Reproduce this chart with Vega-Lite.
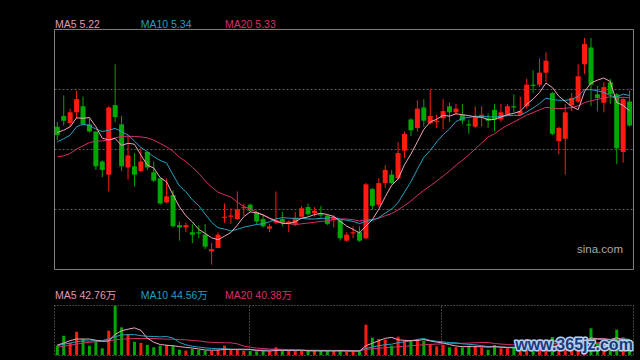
{
"$schema": "https://vega.github.io/schema/vega-lite/v6.json",
"background": "#000000",
"autosize": {"type": "none"},
"padding": 0,
"width": 640, "height": 360,
"view": {"stroke": null},
"config": {"text": {"font": "Liberation Sans, Noto Sans CJK SC", "fontSize": 10.5}, "scale": {"continuousPadding": 0}},
"resolve": {"scale": {"y": "independent"}},
"datasets": {"k": [
{"i":1,"o":5.09,"h":5.13,"l":4.98,"c":5.02,"m5":5.042,"m10":4.964,"m20":4.839,"v":26.5,"v5":28.5,"v10":26.5,"v20":22},
{"i":2,"o":5.18,"h":5.35,"l":5.10,"c":5.14,"m5":5.061,"m10":4.99,"m20":4.847,"v":55,"v5":34,"v10":31,"v20":25},
{"i":3,"o":5.12,"h":5.24,"l":5.09,"c":5.21,"m5":5.089,"m10":5.02,"m20":4.867,"v":34.2,"v5":41,"v10":34,"v20":28},
{"i":4,"o":5.21,"h":5.39,"l":5.16,"c":5.32,"m5":5.164,"m10":5.09,"m20":4.903,"v":66.4,"v5":45.6,"v10":38,"v20":31},
{"i":5,"o":5.26,"h":5.34,"l":5.10,"c":5.11,"m5":5.160,"m10":5.11,"m20":4.931,"v":45.6,"v5":45.5,"v10":40,"v20":34},
{"i":6,"o":5.11,"h":5.16,"l":5.04,"c":5.05,"m5":5.166,"m10":5.10,"m20":4.958,"v":26.5,"v5":45.5,"v10":40,"v20":36},
{"i":7,"o":5.05,"h":5.05,"l":4.73,"c":4.76,"m5":5.090,"m10":5.07,"m20":4.969,"v":37.9,"v5":42.1,"v10":41,"v20":38},
{"i":8,"o":4.80,"h":4.81,"l":4.67,"c":4.73,"m5":4.994,"m10":5.05,"m20":4.972,"v":19.1,"v5":39.1,"v10":41,"v20":39},
{"i":9,"o":4.69,"h":5.26,"l":4.55,"c":5.25,"m5":4.980,"m10":5.06,"m20":4.978,"v":69.3,"v5":39.7,"v10":45.6,"v20":41},
{"i":10,"o":5.27,"h":5.61,"l":5.13,"c":5.17,"m5":4.992,"m10":5.076,"m20":4.997,"v":140.5,"v5":58.7,"v10":52.1,"v20":43},
{"i":11,"o":5.11,"h":5.18,"l":4.72,"c":4.76,"m5":4.934,"m10":5.050,"m20":5.008,"v":78.9,"v5":69.1,"v10":57.3,"v20":45},
{"i":12,"o":4.75,"h":5.02,"l":4.65,"c":4.85,"m5":4.952,"m10":5.021,"m20":5.011,"v":59.9,"v5":73.5,"v10":57.8,"v20":46},
{"i":13,"o":4.76,"h":4.87,"l":4.59,"c":4.69,"m5":4.944,"m10":4.969,"m20":5.008,"v":37.9,"v5":77.3,"v10":58.2,"v20":47},
{"i":14,"o":4.72,"h":4.91,"l":4.71,"c":4.80,"m5":4.854,"m10":4.917,"m20":5.005,"v":34.2,"v5":70.3,"v10":55.0,"v20":47},
{"i":15,"o":4.88,"h":4.88,"l":4.73,"c":4.75,"m5":4.770,"m10":4.881,"m20":4.997,"v":28.5,"v5":47.9,"v10":53.3,"v20":47},
{"i":16,"o":4.71,"h":4.80,"l":4.63,"c":4.64,"m5":4.746,"m10":4.840,"m20":4.978,"v":21.9,"v5":36.5,"v10":52.8,"v20":47},
{"i":17,"o":4.66,"h":4.66,"l":4.44,"c":4.45,"m5":4.666,"m10":4.809,"m20":4.950,"v":26.5,"v5":29.8,"v10":51.7,"v20":46},
{"i":18,"o":4.46,"h":4.66,"l":4.45,"c":4.51,"m5":4.630,"m10":4.787,"m20":4.922,"v":28.5,"v5":27.9,"v10":52.6,"v20":45},
{"i":19,"o":4.52,"h":4.56,"l":4.25,"c":4.26,"m5":4.522,"m10":4.688,"m20":4.886,"v":26.5,"v5":26.4,"v10":48.3,"v20":45},
{"i":20,"o":4.27,"h":4.30,"l":4.14,"c":4.25,"m5":4.422,"m10":4.596,"m20":4.836,"v":15.1,"v5":23.7,"v10":35.8,"v20":43.9},
{"i":21,"o":4.25,"h":4.29,"l":4.21,"c":4.27,"m5":4.348,"m10":4.547,"m20":4.799,"v":12.3,"v5":21.8,"v10":29.1,"v20":43.2},
{"i":22,"o":4.21,"h":4.28,"l":4.12,"c":4.19,"m5":4.296,"m10":4.481,"m20":4.751,"v":17.1,"v5":19.9,"v10":24.9,"v20":41.3},
{"i":23,"o":4.21,"h":4.27,"l":4.16,"c":4.20,"m5":4.234,"m10":4.432,"m20":4.701,"v":14.3,"v5":17.1,"v10":22.5,"v20":40.3},
{"i":24,"o":4.19,"h":4.28,"l":4.07,"c":4.09,"m5":4.200,"m10":4.361,"m20":4.639,"v":12.3,"v5":14.2,"v10":20.3,"v20":37.6},
{"i":25,"o":4.05,"h":4.12,"l":3.94,"c":4.07,"m5":4.164,"m10":4.293,"m20":4.587,"v":12.3,"v5":13.7,"v10":18.7,"v20":36.0},
{"i":26,"o":4.08,"h":4.21,"l":4.08,"c":4.19,"m5":4.148,"m10":4.248,"m20":4.544,"v":14.3,"v5":14.1,"v10":17.9,"v20":35.4},
{"i":27,"o":4.33,"h":4.45,"l":4.29,"c":4.34,"m5":4.178,"m10":4.237,"m20":4.523,"v":26.5,"v5":15.9,"v10":17.9,"v20":34.8},
{"i":28,"o":4.34,"h":4.41,"l":4.28,"c":4.35,"m5":4.208,"m10":4.221,"m20":4.504,"v":14.3,"v5":15.9,"v10":16.5,"v20":34.6},
{"i":29,"o":4.32,"h":4.55,"l":4.31,"c":4.40,"m5":4.270,"m10":4.235,"m20":4.462,"v":15.1,"v5":16.5,"v10":15.4,"v20":31.8},
{"i":30,"o":4.41,"h":4.45,"l":4.35,"c":4.42,"m5":4.340,"m10":4.252,"m20":4.424,"v":12.3,"v5":16.5,"v10":15.1,"v20":25.4},
{"i":31,"o":4.44,"h":4.45,"l":4.38,"c":4.39,"m5":4.380,"m10":4.264,"m20":4.406,"v":11.4,"v5":15.9,"v10":15.0,"v20":22.1},
{"i":32,"o":4.38,"h":4.39,"l":4.28,"c":4.30,"m5":4.372,"m10":4.275,"m20":4.378,"v":10.5,"v5":12.7,"v10":14.3,"v20":19.6},
{"i":33,"o":4.32,"h":4.35,"l":4.25,"c":4.26,"m5":4.354,"m10":4.281,"m20":4.357,"v":11.4,"v5":12.1,"v10":14.0,"v20":18.3},
{"i":34,"o":4.24,"h":4.28,"l":4.21,"c":4.26,"m5":4.326,"m10":4.298,"m20":4.330,"v":10.5,"v5":11.2,"v10":13.9,"v20":17.1},
{"i":35,"o":4.29,"h":4.55,"l":4.28,"c":4.31,"m5":4.304,"m10":4.322,"m20":4.308,"v":21.9,"v5":13.1,"v10":14.8,"v20":16.8},
{"i":36,"o":4.32,"h":4.38,"l":4.26,"c":4.29,"m5":4.284,"m10":4.332,"m20":4.290,"v":11.4,"v5":13.1,"v10":14.5,"v20":16.2},
{"i":37,"o":4.28,"h":4.31,"l":4.21,"c":4.30,"m5":4.284,"m10":4.328,"m20":4.283,"v":11.4,"v5":13.3,"v10":13.0,"v20":15.5},
{"i":38,"o":4.28,"h":4.38,"l":4.26,"c":4.33,"m5":4.298,"m10":4.326,"m20":4.274,"v":12.3,"v5":13.5,"v10":12.8,"v20":14.7},
{"i":39,"o":4.34,"h":4.43,"l":4.34,"c":4.41,"m5":4.328,"m10":4.327,"m20":4.281,"v":12.3,"v5":13.9,"v10":12.5,"v20":14.0},
{"i":40,"o":4.42,"h":4.45,"l":4.35,"c":4.36,"m5":4.338,"m10":4.321,"m20":4.287,"v":11.4,"v5":11.8,"v10":12.5,"v20":13.8},
{"i":41,"o":4.37,"h":4.42,"l":4.34,"c":4.39,"m5":4.358,"m10":4.321,"m20":4.293,"v":11.4,"v5":11.8,"v10":12.5,"v20":13.7},
{"i":42,"o":4.36,"h":4.43,"l":4.33,"c":4.35,"m5":4.368,"m10":4.326,"m20":4.301,"v":11.4,"v5":11.8,"v10":12.5,"v20":13.4},
{"i":43,"o":4.35,"h":4.36,"l":4.27,"c":4.28,"m5":4.358,"m10":4.328,"m20":4.305,"v":11.4,"v5":11.6,"v10":12.5,"v20":13.3},
{"i":44,"o":4.31,"h":4.35,"l":4.25,"c":4.33,"m5":4.342,"m10":4.335,"m20":4.317,"v":11.4,"v5":11.4,"v10":12.6,"v20":13.2},
{"i":45,"o":4.31,"h":4.31,"l":4.14,"c":4.16,"m5":4.302,"m10":4.320,"m20":4.321,"v":14.3,"v5":12.0,"v10":11.9,"v20":13.3},
{"i":46,"o":4.14,"h":4.21,"l":4.13,"c":4.19,"m5":4.262,"m10":4.310,"m20":4.321,"v":10.0,"v5":11.7,"v10":11.7,"v20":13.1},
{"i":47,"o":4.20,"h":4.26,"l":4.16,"c":4.21,"m5":4.234,"m10":4.301,"m20":4.315,"v":9.4,"v5":11.3,"v10":11.5,"v20":12.3},
{"i":48,"o":4.21,"h":4.26,"l":4.13,"c":4.14,"m5":4.206,"m10":4.282,"m20":4.304,"v":12.3,"v5":11.5,"v10":11.5,"v20":12.2},
{"i":49,"o":4.16,"h":4.62,"l":4.15,"c":4.61,"m5":4.262,"m10":4.302,"m20":4.315,"v":86.4,"v5":26.5,"v10":18.9,"v20":15.7},
{"i":50,"o":4.57,"h":4.58,"l":4.40,"c":4.43,"m5":4.316,"m10":4.309,"m20":4.315,"v":49.3,"v5":33.5,"v10":22.7,"v20":17.6},
{"i":51,"o":4.44,"h":4.66,"l":4.42,"c":4.62,"m5":4.402,"m10":4.332,"m20":4.327,"v":45.6,"v5":40.6,"v10":26.2,"v20":19.3},
{"i":52,"o":4.62,"h":4.77,"l":4.58,"c":4.73,"m5":4.506,"m10":4.370,"m20":4.348,"v":43.6,"v5":47.4,"v10":29.4,"v20":21.0},
{"i":53,"o":4.69,"h":4.73,"l":4.61,"c":4.62,"m5":4.602,"m10":4.404,"m20":4.366,"v":26.5,"v5":50.3,"v10":30.9,"v20":21.7},
{"i":54,"o":4.66,"h":4.96,"l":4.65,"c":4.87,"m5":4.654,"m10":4.458,"m20":4.397,"v":52.2,"v5":43.4,"v10":35.0,"v20":23.8},
{"i":55,"o":4.89,"h":5.05,"l":4.83,"c":5.03,"m5":4.774,"m10":4.545,"m20":4.433,"v":40.8,"v5":41.7,"v10":37.6,"v20":24.7},
{"i":56,"o":5.15,"h":5.16,"l":5.01,"c":5.06,"m5":4.862,"m10":4.632,"m20":4.471,"v":40.8,"v5":40.8,"v10":40.7,"v20":26.2},
{"i":57,"o":5.08,"h":5.31,"l":5.05,"c":5.24,"m5":4.964,"m10":4.735,"m20":4.518,"v":45.6,"v5":41.2,"v10":44.3,"v20":27.9},
{"i":58,"o":5.25,"h":5.32,"l":5.09,"c":5.14,"m5":5.068,"m10":4.835,"m20":4.559,"v":40.8,"v5":44.0,"v10":47.2,"v20":29.3},
{"i":59,"o":5.12,"h":5.40,"l":5.11,"c":5.18,"m5":5.130,"m10":4.892,"m20":4.597,"v":31.4,"v5":39.9,"v10":41.7,"v20":30.3},
{"i":60,"o":5.13,"h":5.19,"l":5.08,"c":5.14,"m5":5.152,"m10":4.963,"m20":4.636,"v":24.8,"v5":36.7,"v10":39.2,"v20":31.0},
{"i":61,"o":5.16,"h":5.32,"l":5.07,"c":5.22,"m5":5.184,"m10":5.023,"m20":4.678,"v":28.5,"v5":34.2,"v10":37.5,"v20":31.8},
{"i":62,"o":5.26,"h":5.29,"l":5.13,"c":5.21,"m5":5.178,"m10":5.071,"m20":4.721,"v":21.9,"v5":29.5,"v10":35.3,"v20":32.4},
{"i":63,"o":5.21,"h":5.28,"l":5.19,"c":5.24,"m5":5.198,"m10":5.133,"m20":4.769,"v":21.9,"v5":25.7,"v10":34.9,"v20":32.9},
{"i":64,"o":5.19,"h":5.28,"l":5.11,"c":5.14,"m5":5.190,"m10":5.160,"m20":4.809,"v":21.9,"v5":23.8,"v10":31.8,"v20":33.4},
{"i":65,"o":5.11,"h":5.15,"l":5.03,"c":5.10,"m5":5.182,"m10":5.167,"m20":4.856,"v":26.5,"v5":24.1,"v10":30.4,"v20":34.0},
{"i":66,"o":5.09,"h":5.26,"l":5.08,"c":5.17,"m5":5.172,"m10":5.178,"m20":4.905,"v":26.5,"v5":23.7,"v10":29.0,"v20":34.8},
{"i":67,"o":5.17,"h":5.26,"l":5.09,"c":5.19,"m5":5.168,"m10":5.173,"m20":4.954,"v":21.9,"v5":23.7,"v10":26.6,"v20":35.5},
{"i":68,"o":5.16,"h":5.20,"l":5.08,"c":5.14,"m5":5.148,"m10":5.173,"m20":5.004,"v":15.1,"v5":22.4,"v10":24.0,"v20":35.6},
{"i":69,"o":5.23,"h":5.28,"l":5.05,"c":5.15,"m5":5.150,"m10":5.170,"m20":5.031,"v":28.5,"v5":23.7,"v10":23.8,"v20":32.7},
{"i":70,"o":5.15,"h":5.28,"l":5.13,"c":5.21,"m5":5.172,"m10":5.177,"m20":5.070,"v":19.1,"v5":22.2,"v10":23.2,"v20":31.2},
{"i":71,"o":5.19,"h":5.28,"l":5.18,"c":5.26,"m5":5.190,"m10":5.181,"m20":5.102,"v":19.1,"v5":20.7,"v10":22.2,"v20":29.9},
{"i":72,"o":5.26,"h":5.36,"l":5.21,"c":5.25,"m5":5.202,"m10":5.185,"m20":5.128,"v":21.9,"v5":20.7,"v10":22.2,"v20":28.8},
{"i":73,"o":5.19,"h":5.34,"l":5.18,"c":5.22,"m5":5.218,"m10":5.183,"m20":5.158,"v":40.8,"v5":25.9,"v10":24.1,"v20":29.5},
{"i":74,"o":5.26,"h":5.49,"l":5.24,"c":5.44,"m5":5.276,"m10":5.213,"m20":5.187,"v":45.6,"v5":29.3,"v10":26.5,"v20":29.2},
{"i":75,"o":5.44,"h":5.56,"l":5.37,"c":5.43,"m5":5.320,"m10":5.246,"m20":5.207,"v":20.7,"v5":29.6,"v10":25.9,"v20":28.2},
{"i":76,"o":5.44,"h":5.66,"l":5.42,"c":5.54,"m5":5.376,"m10":5.283,"m20":5.231,"v":39.9,"v5":33.8,"v10":27.3,"v20":28.1},
{"i":77,"o":5.54,"h":5.71,"l":5.46,"c":5.64,"m5":5.454,"m10":5.328,"m20":5.251,"v":42.8,"v5":38.0,"v10":29.4,"v20":28.0},
{"i":78,"o":5.37,"h":5.38,"l":5.02,"c":5.03,"m5":5.416,"m10":5.317,"m20":5.245,"v":51.3,"v5":40.1,"v10":33.0,"v20":28.5},
{"i":79,"o":4.97,"h":5.09,"l":4.86,"c":5.08,"m5":5.344,"m10":5.310,"m20":5.240,"v":34.2,"v5":37.8,"v10":33.5,"v20":28.6},
{"i":80,"o":4.99,"h":5.28,"l":4.69,"c":5.21,"m5":5.300,"m10":5.310,"m20":5.244,"v":45.6,"v5":42.8,"v10":36.2,"v20":29.7},
{"i":81,"o":5.27,"h":5.37,"l":5.22,"c":5.33,"m5":5.258,"m10":5.317,"m20":5.249,"v":31.4,"v5":41.1,"v10":37.4,"v20":29.8},
{"i":82,"o":5.30,"h":5.61,"l":5.29,"c":5.51,"m5":5.232,"m10":5.343,"m20":5.264,"v":41.6,"v5":40.8,"v10":39.4,"v20":30.8},
{"i":83,"o":5.61,"h":5.83,"l":5.53,"c":5.78,"m5":5.382,"m10":5.399,"m20":5.291,"v":48.5,"v5":40.3,"v10":40.2,"v20":32.1},
{"i":84,"o":5.75,"h":5.83,"l":5.26,"c":5.44,"m5":5.454,"m10":5.399,"m20":5.306,"v":76.1,"v5":48.6,"v10":43.2,"v20":34.9},
{"i":85,"o":5.36,"h":5.43,"l":5.22,"c":5.33,"m5":5.478,"m10":5.389,"m20":5.318,"v":34.2,"v5":46.4,"v10":44.6,"v20":35.2},
{"i":86,"o":5.29,"h":5.46,"l":5.21,"c":5.42,"m5":5.496,"m10":5.377,"m20":5.330,"v":31.4,"v5":46.4,"v10":43.7,"v20":35.5},
{"i":87,"o":5.46,"h":5.49,"l":5.28,"c":5.36,"m5":5.466,"m10":5.349,"m20":5.339,"v":31.4,"v5":44.3,"v10":42.6,"v20":36.0},
{"i":88,"o":5.36,"h":5.37,"l":4.78,"c":4.91,"m5":5.292,"m10":5.337,"m20":5.327,"v":72.1,"v5":49.0,"v10":44.7,"v20":38.8},
{"i":89,"o":4.88,"h":5.33,"l":4.79,"c":5.32,"m5":5.268,"m10":5.361,"m20":5.336,"v":50.4,"v5":43.9,"v10":46.3,"v20":39.9},
{"i":90,"o":5.30,"h":5.39,"l":5.09,"c":5.10,"m5":5.222,"m10":5.350,"m20":5.330,"v":28.5,"v5":42.76,"v10":44.56,"v20":40.38}
],
"grid": [{"p":4.4},{"p":4.9},{"p":5.4}],
"months": [{"m":30.89},{"m":60.75}],
"one": [{}]
},
"layer": [
{"data": {"name": "grid"}, "mark": {"type": "rule", "strokeDash": [2,2], "color": "#5e5e5e", "strokeWidth": 1},
 "encoding": {"x": {"datum": 0.565, "type": "quantitative", "scale": {"domain": [-7.911, 91.622], "nice": false, "zero": false, "padding": 0}, "axis": null}, "x2": {"datum": 90.611},
  "y": {"field": "p", "type": "quantitative", "scale": {"domain": [3.1458,6.1458], "nice": false, "zero": false, "padding": 0}, "axis": null}}},
{"data": {"name": "one"}, "mark": {"type": "rect", "filled": false, "color": "#808080", "strokeWidth": 1},
 "encoding": {"x": {"datum": 0.565, "type": "quantitative", "scale": {"domain": [-7.911, 91.622], "nice": false, "zero": false, "padding": 0}, "axis": null}, "x2": {"datum": 90.611},
  "y": {"datum": 3.9, "type": "quantitative", "scale": {"domain": [3.1458,6.1458], "nice": false, "zero": false, "padding": 0}, "axis": null}, "y2": {"datum": 5.9}}},
{"data": {"name": "one"}, "mark": {"type": "rect", "filled": false, "color": "#808080", "strokeWidth": 1, "strokeDash": [1,2]},
 "encoding": {"x": {"datum": 0.565, "type": "quantitative", "scale": {"domain": [-7.911, 91.622], "nice": false, "zero": false, "padding": 0}, "axis": null}, "x2": {"datum": 90.611},
  "y": {"datum": -1.425, "type": "quantitative", "scale": {"domain": [-14.25,1011.75], "nice": false, "zero": false, "padding": 0}, "axis": null}, "y2": {"datum": 141.075}}},
{"data": {"name": "months"}, "mark": {"type": "rule", "strokeDash": [1,2], "color": "#808080", "strokeWidth": 1},
 "encoding": {"x": {"field": "m", "type": "quantitative", "scale": {"domain": [-7.911, 91.622], "nice": false, "zero": false, "padding": 0}, "axis": null},
  "y": {"datum": -1.425, "type": "quantitative", "scale": {"domain": [-14.25,1011.75], "nice": false, "zero": false, "padding": 0}, "axis": null}, "y2": {"datum": 141.075}}},
{"data": {"name": "k"}, "mark": {"type": "rule", "strokeWidth": 1},
 "encoding": {
  "x": {"field": "i", "type": "quantitative", "scale": {"domain": [-7.911, 91.622], "nice": false, "zero": false, "padding": 0}, "axis": null},
  "y": {"field": "l", "type": "quantitative", "scale": {"domain": [3.1458,6.1458], "nice": false, "zero": false, "padding": 0}, "axis": null},
  "y2": {"field": "h"},
  "color": {"condition": {"test": "datum.c >= datum.o", "value": "#ff1b10"}, "value": "#00a800"}}},
{"data": {"name": "k"}, "mark": {"type": "bar", "size": 5},
 "encoding": {
  "x": {"field": "i", "type": "quantitative", "scale": {"domain": [-7.911, 91.622], "nice": false, "zero": false, "padding": 0}, "axis": null},
  "y": {"field": "o", "type": "quantitative", "scale": {"domain": [3.1458,6.1458], "nice": false, "zero": false, "padding": 0}, "axis": null},
  "y2": {"field": "c"},
  "color": {"condition": {"test": "datum.c >= datum.o", "value": "#ff1b10"}, "value": "#00a800"}}},
{"data": {"name": "k"}, "mark": {"type": "line", "strokeWidth": 1, "color": "#d62f6a"},
 "encoding": {"x": {"field": "i", "type": "quantitative", "scale": {"domain": [-7.911, 91.622], "nice": false, "zero": false, "padding": 0}, "axis": null},
  "y": {"field": "m20", "type": "quantitative", "scale": {"domain": [3.1458,6.1458], "nice": false, "zero": false, "padding": 0}, "axis": null}}},
{"data": {"name": "k"}, "mark": {"type": "line", "strokeWidth": 1, "color": "#22a3c4"},
 "encoding": {"x": {"field": "i", "type": "quantitative", "scale": {"domain": [-7.911, 91.622], "nice": false, "zero": false, "padding": 0}, "axis": null},
  "y": {"field": "m10", "type": "quantitative", "scale": {"domain": [3.1458,6.1458], "nice": false, "zero": false, "padding": 0}, "axis": null}}},
{"data": {"name": "k"}, "mark": {"type": "line", "strokeWidth": 1, "color": "#f0a6c2"},
 "encoding": {"x": {"field": "i", "type": "quantitative", "scale": {"domain": [-7.911, 91.622], "nice": false, "zero": false, "padding": 0}, "axis": null},
  "y": {"field": "m5", "type": "quantitative", "scale": {"domain": [3.1458,6.1458], "nice": false, "zero": false, "padding": 0}, "axis": null}}},
{"data": {"name": "k"}, "mark": {"type": "bar", "size": 3},
 "encoding": {
  "x": {"field": "i", "type": "quantitative", "scale": {"domain": [-7.911, 91.622], "nice": false, "zero": false, "padding": 0}, "axis": null},
  "y": {"field": "v", "type": "quantitative", "scale": {"domain": [-14.25,1011.75], "nice": false, "zero": false, "padding": 0}, "axis": null},
  "y2": {"datum": 0},
  "color": {"condition": {"test": "datum.c >= datum.o", "value": "#ff1b10"}, "value": "#00a800"}}},
{"data": {"name": "k"}, "mark": {"type": "line", "strokeWidth": 1, "color": "#d62f6a"},
 "encoding": {"x": {"field": "i", "type": "quantitative", "scale": {"domain": [-7.911, 91.622], "nice": false, "zero": false, "padding": 0}, "axis": null},
  "y": {"field": "v20", "type": "quantitative", "scale": {"domain": [-14.25,1011.75], "nice": false, "zero": false, "padding": 0}, "axis": null}}},
{"data": {"name": "k"}, "mark": {"type": "line", "strokeWidth": 1, "color": "#22a3c4"},
 "encoding": {"x": {"field": "i", "type": "quantitative", "scale": {"domain": [-7.911, 91.622], "nice": false, "zero": false, "padding": 0}, "axis": null},
  "y": {"field": "v10", "type": "quantitative", "scale": {"domain": [-14.25,1011.75], "nice": false, "zero": false, "padding": 0}, "axis": null}}},
{"data": {"name": "k"}, "mark": {"type": "line", "strokeWidth": 1, "color": "#f0a6c2"},
 "encoding": {"x": {"field": "i", "type": "quantitative", "scale": {"domain": [-7.911, 91.622], "nice": false, "zero": false, "padding": 0}, "axis": null},
  "y": {"field": "v5", "type": "quantitative", "scale": {"domain": [-14.25,1011.75], "nice": false, "zero": false, "padding": 0}, "axis": null}}},
{"data": {"name": "one"}, "mark": {"type": "text", "align": "left", "baseline": "alphabetic", "color": "#e597b3"},
 "encoding": {"x": {"datum": 0.643, "type": "quantitative", "scale": {"domain": [-7.911, 91.622], "nice": false, "zero": false, "padding": 0}, "axis": null}, "y": {"datum": 5.9125, "type": "quantitative", "scale": {"domain": [3.1458,6.1458], "nice": false, "zero": false, "padding": 0}, "axis": null}, "text": {"value": "MA5 5.22"}}},
{"data": {"name": "one"}, "mark": {"type": "text", "align": "left", "baseline": "alphabetic", "color": "#1f9fc2"},
 "encoding": {"x": {"datum": 13.97, "type": "quantitative", "scale": {"domain": [-7.911, 91.622], "nice": false, "zero": false, "padding": 0}, "axis": null}, "y": {"datum": 5.9125, "type": "quantitative", "scale": {"domain": [3.1458,6.1458], "nice": false, "zero": false, "padding": 0}, "axis": null}, "text": {"value": "MA10 5.34"}}},
{"data": {"name": "one"}, "mark": {"type": "text", "align": "left", "baseline": "alphabetic", "color": "#dc2d68"},
 "encoding": {"x": {"datum": 27.08, "type": "quantitative", "scale": {"domain": [-7.911, 91.622], "nice": false, "zero": false, "padding": 0}, "axis": null}, "y": {"datum": 5.9125, "type": "quantitative", "scale": {"domain": [3.1458,6.1458], "nice": false, "zero": false, "padding": 0}, "axis": null}, "text": {"value": "MA20 5.33"}}},
{"data": {"name": "one"}, "mark": {"type": "text", "align": "left", "baseline": "alphabetic", "color": "#e597b3"},
 "encoding": {"x": {"datum": 0.643, "type": "quantitative", "scale": {"domain": [-7.911, 91.622], "nice": false, "zero": false, "padding": 0}, "axis": null}, "y": {"datum": 159.6, "type": "quantitative", "scale": {"domain": [-14.25,1011.75], "nice": false, "zero": false, "padding": 0}, "axis": null}, "text": {"value": "MA5 42.76万"}}},
{"data": {"name": "one"}, "mark": {"type": "text", "align": "left", "baseline": "alphabetic", "color": "#1f9fc2"},
 "encoding": {"x": {"datum": 13.97, "type": "quantitative", "scale": {"domain": [-7.911, 91.622], "nice": false, "zero": false, "padding": 0}, "axis": null}, "y": {"datum": 159.6, "type": "quantitative", "scale": {"domain": [-14.25,1011.75], "nice": false, "zero": false, "padding": 0}, "axis": null}, "text": {"value": "MA10 44.56万"}}},
{"data": {"name": "one"}, "mark": {"type": "text", "align": "left", "baseline": "alphabetic", "color": "#dc2d68"},
 "encoding": {"x": {"datum": 27.08, "type": "quantitative", "scale": {"domain": [-7.911, 91.622], "nice": false, "zero": false, "padding": 0}, "axis": null}, "y": {"datum": 159.6, "type": "quantitative", "scale": {"domain": [-14.25,1011.75], "nice": false, "zero": false, "padding": 0}, "axis": null}, "text": {"value": "MA20 40.38万"}}},
{"data": {"name": "one"}, "mark": {"type": "text", "align": "right", "baseline": "alphabetic", "color": "#a8a8a8", "fontSize": 11.5},
 "encoding": {"x": {"datum": 88.98, "type": "quantitative", "scale": {"domain": [-7.911, 91.622], "nice": false, "zero": false, "padding": 0}, "axis": null},
  "y": {"datum": 4.0375, "type": "quantitative", "scale": {"domain": [3.1458,6.1458], "nice": false, "zero": false, "padding": 0}, "axis": null},
  "text": {"value": "sina.com"}}},
{"data": {"name": "one"}, "mark": {"type": "text", "align": "center", "baseline": "alphabetic", "color": "#b8d0f0", "stroke": "#b8d0f0", "strokeWidth": 3, "strokeJoin": "round", "font": "Liberation Sans", "fontWeight": "bold", "fontSize": 16},
 "encoding": {"x": {"datum": 81.36, "type": "quantitative", "scale": {"domain": [-7.911, 91.622], "nice": false, "zero": false, "padding": 0}, "axis": null},
  "y": {"datum": 14.25, "type": "quantitative", "scale": {"domain": [-14.25,1011.75], "nice": false, "zero": false, "padding": 0}, "axis": null},
  "text": {"value": "www.365jz.com"}}},
{"data": {"name": "one"}, "mark": {"type": "text", "align": "center", "baseline": "alphabetic", "color": "#1c3a76", "font": "Liberation Sans", "fontWeight": "bold", "fontSize": 16},
 "encoding": {"x": {"datum": 81.36, "type": "quantitative", "scale": {"domain": [-7.911, 91.622], "nice": false, "zero": false, "padding": 0}, "axis": null},
  "y": {"datum": 14.25, "type": "quantitative", "scale": {"domain": [-14.25,1011.75], "nice": false, "zero": false, "padding": 0}, "axis": null},
  "text": {"value": "www.365jz.com"}}}
]
}
